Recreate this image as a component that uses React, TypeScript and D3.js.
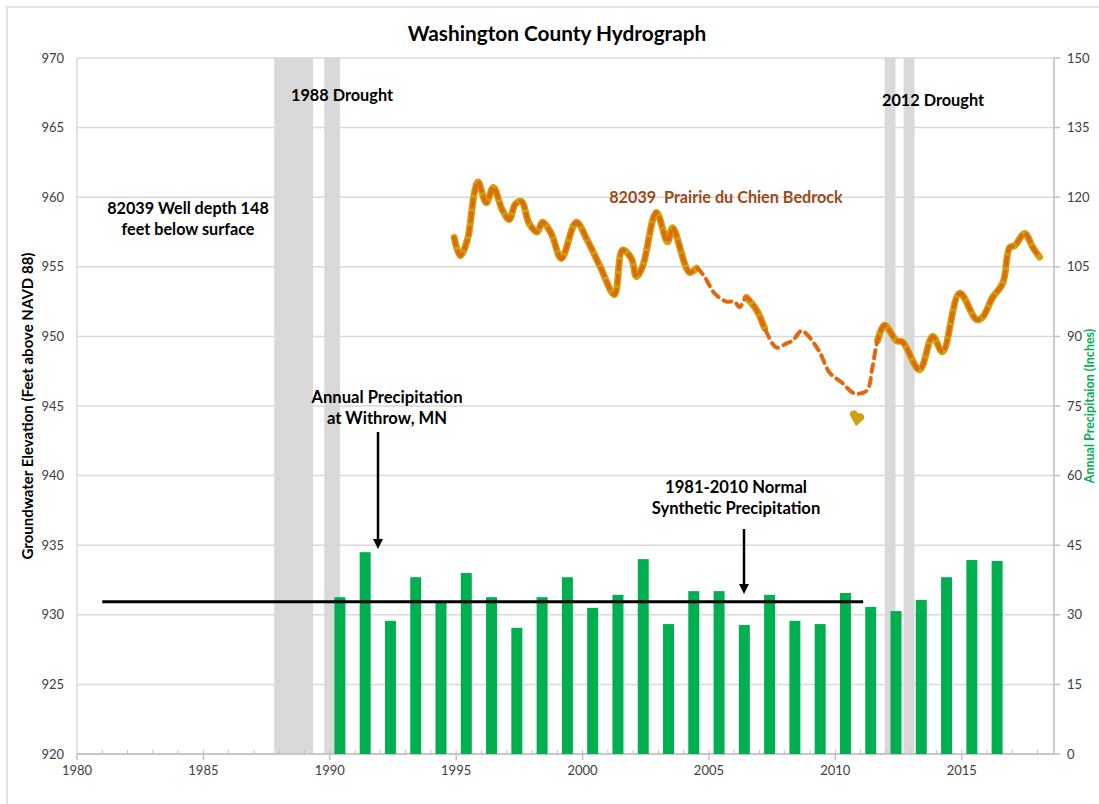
import React from "react";
import * as d3 from "d3";

// ---------- DATA ----------
const precipYears = [1990,1991,1992,1993,1994,1995,1996,1997,1998,1999,2000,2001,2002,2003,2004,2005,2006,2007,2008,2009,2010,2011,2012,2013,2014,2015,2016];
const precipInches = [33.8,43.5,28.7,38.1,32.8,39.0,33.8,27.2,33.8,38.1,31.5,34.3,42.0,28.0,35.1,35.1,27.8,34.3,28.7,28.0,34.7,31.7,30.8,33.2,38.1,41.8,41.6];

const hydroYears = [1994.92,1995.16,1995.44,1995.72,1995.87,1996.19,1996.47,1996.82,1997.10,1997.34,1997.58,1997.89,1998.21,1998.41,1998.76,1999.16,1999.75,2000.19,2000.7,2001.26,2001.58,2001.93,2002.13,2002.37,2002.92,2003.36,2003.56,2004.23,2004.51,2004.82,2005.22,2005.69,2006.01,2006.21,2006.48,2006.88,2007.20,2007.67,2008.07,2008.31,2008.66,2008.90,2009.37,2009.77,2010.25,2010.76,2011.24,2011.47,2011.67,2011.95,2012.42,2012.66,2013.33,2013.85,2014.24,2014.92,2015.59,2015.83,2016.22,2016.62,2016.90,2017.09,2017.49,2017.81,2018.08];
const hydroElev = [957.1,955.8,956.9,960.3,961.1,959.6,960.7,959.1,958.4,959.5,959.7,958.1,957.5,958.2,957.4,955.6,958.2,956.9,955.0,953.0,956.2,955.6,954.3,955.0,958.9,956.8,957.8,954.6,954.9,954.3,953.1,952.5,952.5,952.1,952.8,951.9,950.6,949.2,949.5,949.7,950.4,950.1,948.9,947.4,946.7,945.9,946.1,947.8,949.7,950.8,949.7,949.6,947.6,950.0,948.9,953.1,951.2,951.4,952.8,953.8,956.4,956.5,957.4,956.4,955.7];
// periods where the continuous (daily) record exists
const dailyPeriods: [number, number][] = [[1994.9, 2004.55], [2006.4, 2007.3], [2011.6, 2018.1]];
const isolatedYears = [2010.74, 2010.86, 2010.98];
const isolatedElev = [944.4, 944.0, 944.2];

const droughtBands: [number, number][] = [[1987.8, 1989.34], [1989.78, 1990.41], [2011.95, 2012.38], [2012.7, 2013.13]];
const normalPrecip = 32.8;
const normalPeriod: [number, number] = [1981, 2011.1];

const leftTicks = [920,925,930,935,940,945,950,955,960,965,970];
const rightTicks = [0,15,30,45,60,75,90,105,120,135,150];
const yearTicks = [1980,1985,1990,1995,2000,2005,2010,2015];
const minorYears = d3.range(1981, 2019);

// ---------- LAYOUT ----------
const W = 1099, H = 804;
const L = 77, R = 1054, T = 58, B = 754;
const FONT = "Lato, 'Open Sans', sans-serif";

export default function App() {
  const x = d3.scaleLinear().domain([1980, 2018.65]).range([L, R]);
  const yL = d3.scaleLinear().domain([920, 970]).range([B, T]);
  const yR = d3.scaleLinear().domain([0, 150]).range([B, T]);

  const pts = hydroYears.map((yr, i) => ({ yr, v: hydroElev[i] }));

  const lineGen = d3.line<{ yr: number; v: number }>()
    .x(d => x(d.yr)).y(d => yL(d.v)).curve(d3.curveCatmullRom.alpha(0.5));
  const goldPaths = dailyPeriods.map(([a, b]) => lineGen(pts.filter(p => p.yr >= a && p.yr <= b)) || "");
  const orangePath = lineGen(pts) || "";
  const isoPath = d3.line<number>().x((_, i) => x(isolatedYears[i])).y(d => yL(d))(isolatedElev) || "";

  const barW = 11;
  const arrow = (xx: number, y1: number, y2: number) => (
    <g>
      <line x1={xx} x2={xx} y1={y1} y2={y2 - 8} stroke="#000" strokeWidth={2.5} />
      <path d={`M${xx - 5},${y2 - 10} L${xx + 5},${y2 - 10} L${xx},${y2} Z`} fill="#000" />
    </g>
  );

  return (
    <svg width={W} height={H} style={{ position: "absolute", left: 0, top: 0, background: "#fff" }} fontFamily={FONT}>
      <rect x={7} y={7} width={W} height={H} fill="#fff" stroke="#d9d9d9" strokeWidth={1.5} />
      {/* gridlines */}
      {leftTicks.map(v => (
        <line key={v} x1={L} x2={R} y1={yL(v)} y2={yL(v)} stroke="#d9d9d9" strokeWidth={1.5} />
      ))}
      {/* drought bands */}
      {droughtBands.map(([a, b], i) => (
        <rect key={i} x={x(a)} y={T} width={x(b) - x(a)} height={B - T} fill="#d9d9d9" />
      ))}
      {/* axes */}
      <line x1={L} x2={L} y1={T} y2={B} stroke="#d9d9d9" strokeWidth={1.5} />
      <line x1={R} x2={R} y1={T} y2={B} stroke="#bfbfbf" strokeWidth={1.5} />
      <line x1={L} x2={R} y1={B} y2={B} stroke="#bfbfbf" strokeWidth={1.5} />
      {rightTicks.map(v => (
        <g key={v}>
          <line x1={R} x2={R + 6} y1={yR(v)} y2={yR(v)} stroke="#bfbfbf" strokeWidth={1.5} />
          <text x={R + 13} y={yR(v)} dy="0.35em" fontSize={13} fill="#404040">{v}</text>
        </g>
      ))}
      {leftTicks.map(v => (
        <text key={v} x={64} y={yL(v)} dy="0.35em" textAnchor="end" fontSize={13} fill="#404040">{v}</text>
      ))}
      {minorYears.map(yr => (
        <line key={yr} x1={x(yr)} x2={x(yr)} y1={B} y2={B - 4} stroke="#bfbfbf" strokeWidth={1} />
      ))}
      {yearTicks.map(yr => (
        <g key={yr}>
          <line x1={x(yr)} x2={x(yr)} y1={B} y2={B + 6} stroke="#bfbfbf" strokeWidth={1.5} />
          <text x={x(yr)} y={B + 21} textAnchor="middle" fontSize={13} fill="#404040">{yr}</text>
        </g>
      ))}
      {/* bars */}
      {precipYears.map((yr, i) => (
        <rect key={yr} x={x(yr + 0.4) - barW / 2} y={yR(precipInches[i])} width={barW} height={B - yR(precipInches[i])} fill="#00B050" />
      ))}
      {/* normal line */}
      <line x1={x(normalPeriod[0])} x2={x(normalPeriod[1])} y1={yR(normalPrecip)} y2={yR(normalPrecip)} stroke="#000" strokeWidth={3} />
      {/* hydrograph */}
      {goldPaths.map((d, i) => (
        <path key={i} d={d} fill="none" stroke="#CBA210" strokeWidth={7} strokeLinejoin="round" strokeLinecap="round" />
      ))}
      <path d={isoPath} fill="none" stroke="#CBA210" strokeWidth={8} strokeLinecap="round" />
      <path d={orangePath} fill="none" stroke="#E2680F" strokeWidth={4} strokeDasharray="8,6" strokeLinecap="round" strokeLinejoin="round" />
      {/* title */}
      <text x={557} y={41} textAnchor="middle" fontSize={20.8} fontWeight="bold" fill="#000">Washington County Hydrograph</text>
      {/* annotations */}
      <text x={342} y={101} textAnchor="middle" fontSize={16.3} fontWeight="bold">1988 Drought</text>
      <text x={933} y={106} textAnchor="middle" fontSize={16.3} fontWeight="bold">2012 Drought</text>
      <text x={188} y={214} textAnchor="middle" fontSize={16.2} fontWeight="bold">82039 Well depth 148</text>
      <text x={188} y={235} textAnchor="middle" fontSize={16.2} fontWeight="bold">feet below surface</text>
      <text x={726} y={203} textAnchor="middle" fontSize={16.2} fontWeight="bold" fill="#9C4A16" xmlSpace="preserve">82039  Prairie du Chien Bedrock</text>
      <text x={387} y={403} textAnchor="middle" fontSize={16.6} fontWeight="bold">Annual Precipitation</text>
      <text x={387} y={424} textAnchor="middle" fontSize={16.6} fontWeight="bold">at Withrow, MN</text>
      {arrow(378, 432, 549)}
      <text x={736} y={493} textAnchor="middle" fontSize={16.6} fontWeight="bold">1981-2010 Normal</text>
      <text x={736} y={514} textAnchor="middle" fontSize={16.6} fontWeight="bold">Synthetic Precipitation</text>
      {arrow(744, 529, 594)}
      {/* axis titles */}
      <text transform={`translate(33,${(T + B) / 2}) rotate(-90)`} textAnchor="middle" fontSize={15} fontWeight="bold" fill="#000">Groundwater Elevation (Feet above NAVD 88)</text>
      <text transform={`translate(1094,${(T + B) / 2}) rotate(-90)`} textAnchor="middle" fontSize={12.5} fontWeight="bold" fill="#00B050">Annual Precipitaion (Inches)</text>
    </svg>
  );
}
